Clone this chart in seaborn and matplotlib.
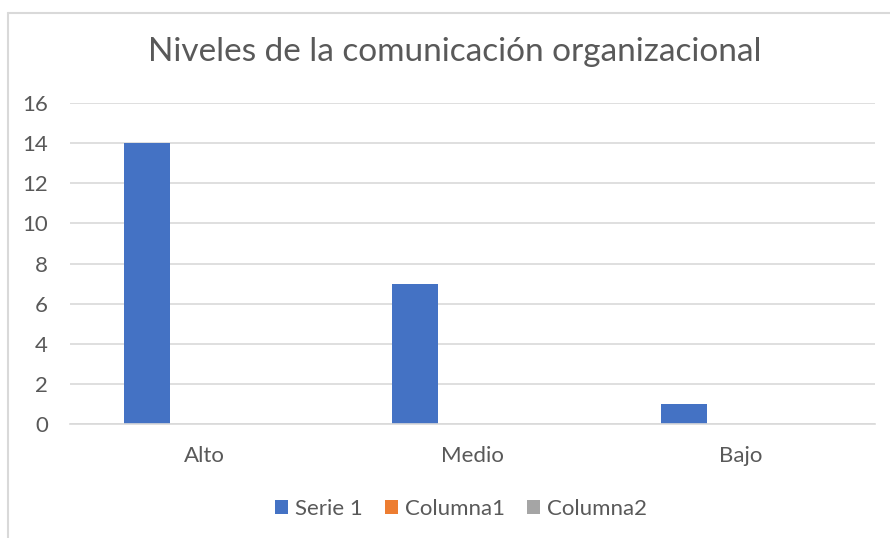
import matplotlib
matplotlib.use("Agg")
import matplotlib.pyplot as plt
from matplotlib.lines import Line2D
from matplotlib.patches import Patch
import pandas as pd
import seaborn as sns

# ── Data ──────────────────────────────────────────────────────────────────────
categories = ["Alto", "Medio", "Bajo"]
series_names = ["Serie 1", "Columna1", "Columna2"]
serie1 = [14, 7, 1]
columna1 = [0, 0, 0]
columna2 = [0, 0, 0]
colors = ["#4472C4", "#ED7D31", "#A5A5A5"]
title = "Niveles de la comunicación organizacional"

df = pd.DataFrame({
    "nivel": categories * 3,
    "serie": [s for s in series_names for _ in categories],
    "valor": serie1 + columna1 + columna2,
})

# ── Plot ──────────────────────────────────────────────────────────────────────
sns.set_style("white")
plt.rcParams["font.family"] = ["Lato", "DejaVu Sans"]
text_color = "#595959"
grid_color = "#D9D9D9"

fig = plt.figure(figsize=(8.9, 5.38), dpi=100)
ax = fig.add_axes([70 / 890, 1 - 424 / 538, 805 / 890, 321 / 538])

sns.barplot(
    data=df, x="nivel", y="valor", hue="serie",
    order=categories, hue_order=series_names,
    palette=colors, saturation=1, width=0.638, gap=0.193,
    linewidth=0, legend=False, ax=ax,
)

ax.set_ylim(0, 16)
ax.set_yticks(range(0, 17, 2))
ax.set_xlim(-0.5, 2.5)
ax.grid(axis="y", color=grid_color, linewidth=1.2)
ax.set_axisbelow(True)
for side in ["top", "right", "left"]:
    ax.spines[side].set_visible(False)
ax.spines["bottom"].set_color(grid_color)
ax.spines["bottom"].set_linewidth(1.2)
ax.tick_params(axis="both", length=0, labelsize=16, colors=text_color)
ax.tick_params(axis="y", pad=16)
ax.tick_params(axis="x", pad=16)
ax.set_xlabel("")
ax.set_ylabel("")

fig.text(0.511, 1 - 52 / 538, title, ha="center", va="center",
         fontsize=24, color=text_color)

handles = [Patch(facecolor=c, edgecolor="none") for c in colors]
fig.legend(handles, series_names, loc="center", bbox_to_anchor=(0.518, 1 - 509 / 538),
           ncol=3, frameon=False, fontsize=16, labelcolor=text_color,
           handlelength=0.6, handleheight=0.6, handletextpad=0.3,
           columnspacing=1.0)

# chart-area border (cropped on the right and bottom)
fig.add_artist(Line2D([8 / 890, 1], [1 - 13 / 538] * 2,
                      transform=fig.transFigure, color=grid_color, lw=1.5))
fig.add_artist(Line2D([8 / 890] * 2, [0, 1 - 13 / 538],
                      transform=fig.transFigure, color=grid_color, lw=1.5))

fig.savefig("out.png", dpi=100, facecolor="white")
